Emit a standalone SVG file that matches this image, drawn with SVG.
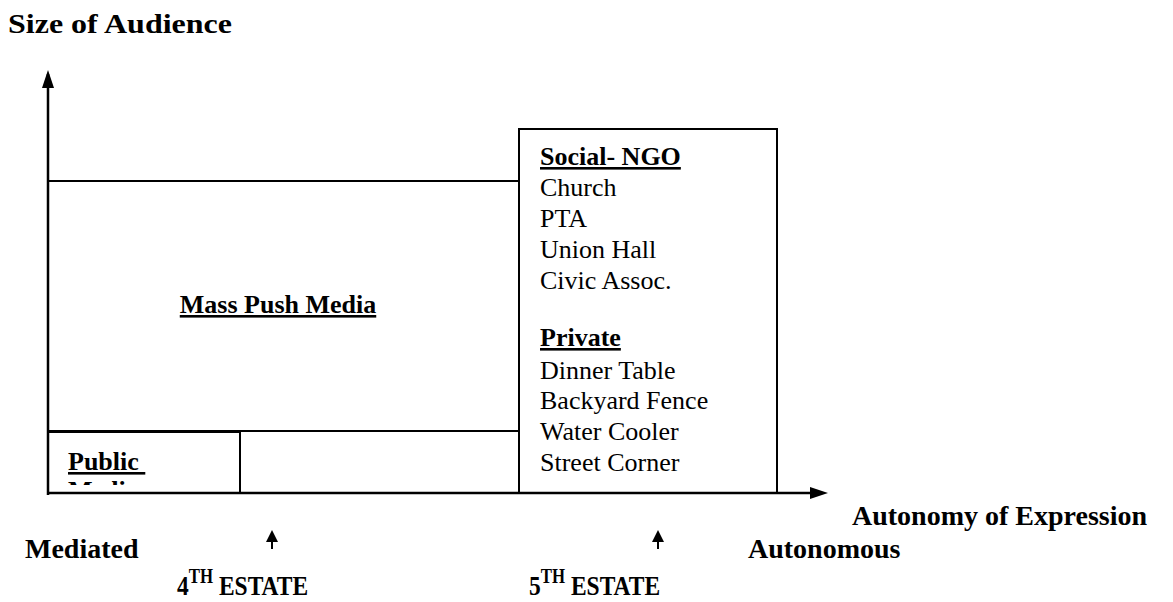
<svg xmlns="http://www.w3.org/2000/svg" width="1173" height="602" viewBox="0 0 1173 602">
<style>
  .ln { stroke: #000; stroke-width: 2; fill: none; }
  .ax { stroke: #000; stroke-width: 2.5; fill: none; }
  .t { font-family: "Liberation Serif", "Times New Roman", serif; font-size: 26px; fill: #000; }
  .b { font-weight: bold; }
  .u { text-decoration: underline; }
  .lbl { font-family: "Liberation Serif", "Times New Roman", serif; font-size: 28px; font-weight: bold; fill: #000; }
</style>
<defs>
  <clipPath id="pubclip"><rect x="48" y="431" width="192" height="54"/></clipPath>
</defs>
<rect width="1173" height="602" fill="#fff"/>

<g id="connectors">
  <line class="ax" x1="48" y1="495" x2="48" y2="74"/>
  <path d="M48,70 L42,88 L54,88 Z" fill="#000"/>
  <line class="ax" x1="47" y1="493" x2="812" y2="493"/>
  <path d="M828,493 L810,487 L810,499 Z" fill="#000"/>
  <line class="ln" x1="272" y1="549" x2="272" y2="540"/>
  <path d="M272,530 L266,542 L278,542 Z" fill="#000"/>
  <line class="ln" x1="658" y1="549" x2="658" y2="540"/>
  <path d="M658,530 L652,542 L664,542 Z" fill="#000"/>
</g>

<g id="mass-push-media">
  <polyline class="ln" points="48,181 519,181"/>
  <polyline class="ln" points="48,431 519,431"/>
  <text class="t b u" x="278" y="313" text-anchor="middle" font-size="21">Mass Push Media</text>
</g>

<g id="public-media">
  <rect class="ln" x="48" y="432" width="192" height="61"/>
  <g clip-path="url(#pubclip)">
    <text class="t b u" x="68" y="470" xml:space="preserve">Public </text>
    <text class="t b u" x="68" y="499">Media</text>
  </g>
</g>

<g id="social-ngo">
  <rect class="ln" x="519" y="129" width="258" height="364"/>
  <text class="t b u" x="540" y="165">Social- NGO</text>
  <text class="t" x="540" y="196">Church</text>
  <text class="t" x="540" y="227">PTA</text>
  <text class="t" x="540" y="258">Union Hall</text>
  <text class="t" x="540" y="289">Civic Assoc.</text>
  <text class="t b u" x="540" y="346">Private</text>
  <text class="t" x="540" y="379">Dinner Table</text>
  <text class="t" x="540" y="409">Backyard Fence</text>
  <text class="t" x="540" y="440">Water Cooler</text>
  <text class="t" x="540" y="471">Street Corner</text>
</g>

<g id="labels">
  <text class="lbl" x="8" y="33" font-size="24" textLength="224" lengthAdjust="spacingAndGlyphs">Size of Audience</text>
  <text class="lbl" x="852" y="525" font-size="29">Autonomy of Expression</text>
  <text class="lbl" x="25" y="558">Mediated</text>
  <text class="lbl" x="748" y="558">Autonomous</text>
  <text class="lbl" transform="translate(177,595) scale(0.84,1)" font-size="31">4<tspan font-size="20" dy="-12">TH</tspan><tspan dy="12"> ESTATE</tspan></text>
  <text class="lbl" transform="translate(529,595) scale(0.84,1)" font-size="31">5<tspan font-size="20" dy="-12">TH</tspan><tspan dy="12"> ESTATE</tspan></text>
</g>
</svg>
